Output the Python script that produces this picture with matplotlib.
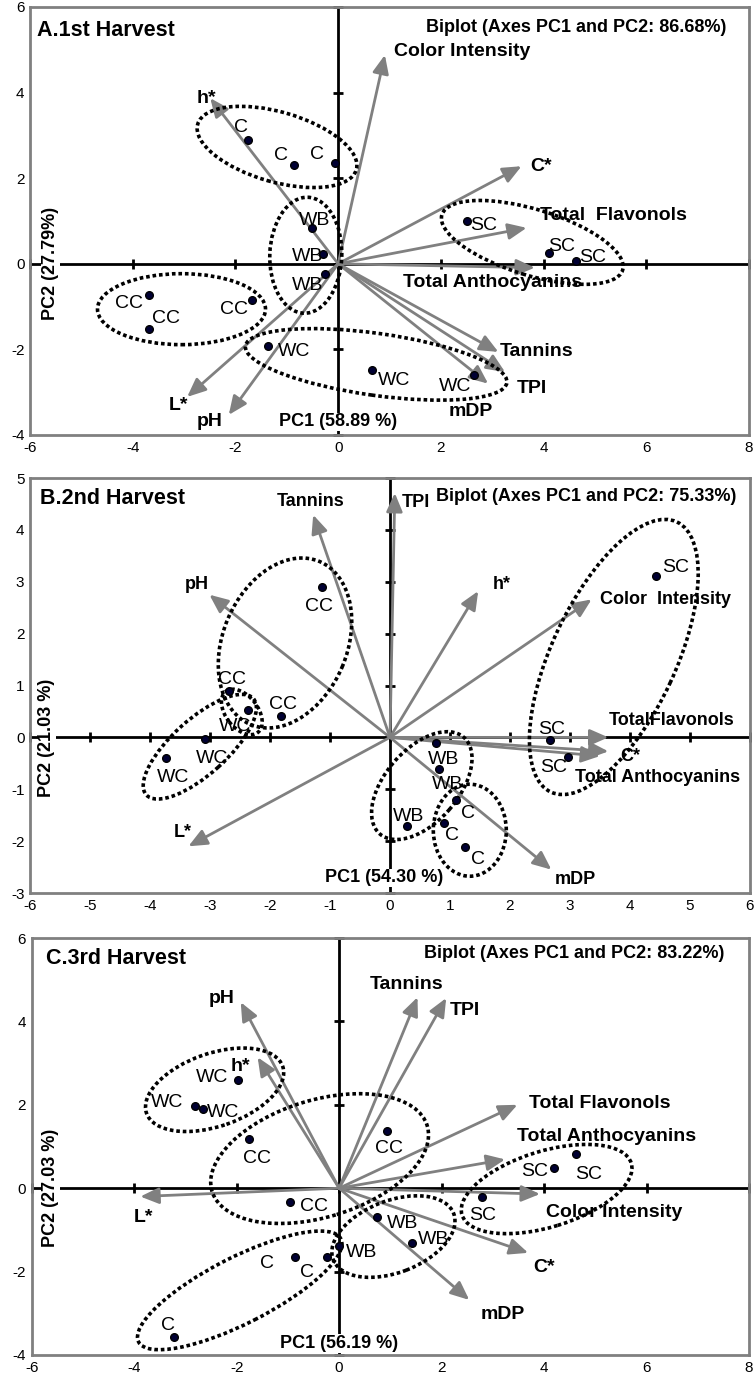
import matplotlib
matplotlib.use('Agg')
import matplotlib.pyplot as plt
from matplotlib.patches import Ellipse
from matplotlib.transforms import ScaledTranslation

plt.rcParams['font.family'] = ['Liberation Sans', 'DejaVu Sans']
plt.rcParams['axes.unicode_minus'] = False

# ---------------- data ----------------
# Panel A : 1st harvest
a_obs = ['C', 'C', 'C', 'WB', 'WB', 'WB', 'CC', 'CC', 'CC', 'WC', 'WC', 'WC', 'SC', 'SC', 'SC']
a_pc1 = [-1.76, -0.86, -0.07, -0.51, -0.29, -0.25, -3.69, -3.68, -1.68, -1.36, 0.66, 2.65, 2.50, 4.10, 4.64]
a_pc2 = [2.90, 2.30, 2.36, 0.84, 0.24, -0.24, -0.74, -1.52, -0.84, -1.91, -2.47, -2.60, 1.00, 0.26, 0.07]
a_vars = ['Color Intensity', 'h*', 'C*', 'Total  Flavonols', 'Total Anthocyanins', 'Tannins', 'TPI', 'mDP', 'L*', 'pH']
a_var_pc1 = [0.91, -2.49, 3.57, 3.67, 3.83, 3.12, 3.25, 2.92, -2.94, -2.13]
a_var_pc2 = [4.88, 3.87, 2.28, 0.84, -0.09, -2.06, -2.53, -2.80, -3.11, -3.53]

# Panel B : 2nd harvest
b_obs = ['CC', 'CC', 'CC', 'WC', 'WC', 'WC', 'SC', 'SC', 'SC', 'WB', 'WB', 'WB', 'C', 'C', 'C']
b_pc1 = [-1.14, -2.68, -1.82, -2.37, -3.09, -3.74, 4.44, 2.66, 2.97, 0.76, 0.82, 0.28, 1.10, 0.90, 1.25]
b_pc2 = [2.89, 0.90, 0.42, 0.52, -0.03, -0.40, 3.12, -0.06, -0.38, -0.11, -0.60, -1.71, -1.21, -1.65, -2.11]
b_vars = ['Tannins', 'pH', 'L*', 'TPI', 'h*', 'Color  Intensity', 'TotalFlavonols', 'C*', 'Total Anthocyanins', 'mDP']
b_var_pc1 = [-1.28, -3.01, -3.36, 0.08, 1.47, 3.36, 3.64, 3.64, 3.50, 2.69]
b_var_pc2 = [4.29, 2.75, -2.10, 4.71, 2.82, 2.66, 0.00, -0.27, -0.36, -2.55]

# Panel C : 3rd harvest
c_obs = ['WC', 'WC', 'WC', 'CC', 'CC', 'CC', 'C', 'C', 'C', 'WB', 'WB', 'WB', 'SC', 'SC', 'SC']
c_pc1 = [-1.97, -2.82, -2.65, -1.75, -0.96, 0.93, -0.86, -0.24, -3.22, 0.00, 0.73, 1.42, 2.78, 4.19, 4.63]
c_pc2 = [2.60, 1.96, 1.90, 1.19, -0.34, 1.38, -1.64, -1.65, -3.58, -1.39, -0.68, -1.32, -0.20, 0.49, 0.81]
c_vars = ['pH', 'h*', 'L*', 'Tannins', 'TPI', 'Total Flavonols', 'Total Anthocyanins', 'Color Intensity', 'C*', 'mDP']
c_var_pc1 = [-1.92, -1.59, -3.88, 1.53, 2.09, 3.48, 3.24, 3.92, 3.69, 2.54]
c_var_pc2 = [4.46, 3.14, -0.20, 4.58, 4.56, 2.00, 0.69, -0.14, -1.55, -2.68]

titles = ['A.1st Harvest', 'B.2nd Harvest', 'C.3rd Harvest']
biplot_titles = ['Biplot (Axes PC1 and PC2: 86.68%)', 'Biplot (Axes PC1 and PC2: 75.33%)',
                 'Biplot (Axes PC1 and PC2: 83.22%)']
pc1_titles = ['PC1 (58.89 %)', 'PC1 (54.30 %)', 'PC1 (56.19 %)']
pc2_titles = ['PC2 (27.79%)', 'PC2 (21.03 %)', 'PC2 (27.03 %)']

# ---------------- layout ----------------
W, H = 754, 1382
panels = [
    dict(obs=a_obs, x=a_pc1, y=a_pc2, vars=a_vars, vx=a_var_pc1, vy=a_var_pc2,
         box=(30, 7, 749, 435), xlim=(-6, 8), ylim=(-4, 6), step=2, vfs=14,
         vlab=[(1.08, 4.95), (-2.75, 3.87), (3.74, 2.28), (3.93, 1.12), (1.27, -0.43),
               (3.15, -2.06), (3.48, -2.91), (2.15, -3.46), (-3.30, -3.30), (-2.75, -3.69)],
         off=[(-7, 12), (-13, 10), (-18, 8), (3, 7), (-16, -3), (-18, -11), (-20, -8), (17, 10),
              (-18, -10), (26, -6), (22, -11), (-19, -11), (17, -4), (13, 6), (16, 3)],
         ell=[(-1.19, 2.73, 165, 70, -16), (-0.63, 0.20, 116, 72, 88), (-3.05, -1.06, 168, 71, 0),
              (0.74, -2.35, 264, 62, -8), (3.78, 0.50, 189, 66, -17)],
         title=(-5.86, 5.46), bip=(7.56, 5.53), pc1=(-1.16, -3.69), pc2=(-5.6, 0.0)),
    dict(obs=b_obs, x=b_pc1, y=b_pc2, vars=b_vars, vx=b_var_pc1, vy=b_var_pc2,
         box=(30, 478, 750, 893), xlim=(-6, 6), ylim=(-3, 5), step=1, vfs=13,
         vlab=[(-1.89, 4.55), (-3.42, 2.94), (-3.61, -1.84), (0.19, 4.52), (1.72, 2.94),
               (3.50, 2.66), (3.64, 0.32), (3.83, -0.36), (3.08, -0.78), (2.75, -2.74)],
         off=[(-3, -19), (3, 11), (2, 11), (-13, -16), (7, -20), (7, -19), (19, 8), (2, 11), (-15, -10),
              (8, -16), (8, -16), (2, 10), (12, -13), (8, -13), (13, -13)],
         ell=[(-1.75, 1.82, 177, 124, 67), (-2.47, 0.49, 52, 32, -52), (-3.17, -0.18, 144, 55, 42),
              (0.53, -0.93, 128, 73, 49), (1.33, -1.79, 92, 73, 90), (3.73, 1.55, 298, 124, 65)],
         title=(-5.83, 4.61), bip=(5.78, 4.65), pc1=(-1.08, -2.71), pc2=(-5.72, 0.0)),
    dict(obs=c_obs, x=c_pc1, y=c_pc2, vars=c_vars, vx=c_var_pc1, vy=c_var_pc2,
         box=(31.7, 938, 749, 1355), xlim=(-6, 8), ylim=(-4, 6), step=2, vfs=14,
         vlab=[(-2.55, 4.54), (-2.12, 2.93), (-4.01, -0.70), (0.59, 4.88), (2.15, 4.26),
               (3.71, 2.04), (3.48, 1.23), (4.03, -0.58), (3.79, -1.91), (2.76, -3.04)],
         off=[(-26, 2), (-28, 4), (20, -4), (8, -20), (24, -4), (2, -18), (-28, -7), (-20, -15), (-6, 12),
              (22, -6), (26, -7), (22, 4), (1, -19), (-19, -4), (12, -20)],
         ell=[(-2.43, 2.36, 144, 73, 19), (-0.38, 0.71, 225, 117, 17), (-1.94, -2.45, 227, 66, 27),
              (1.06, -1.16, 129, 72, 21), (4.05, -0.02, 177, 76, 17)],
         title=(-5.73, 5.51), bip=(7.52, 5.62), pc1=(-1.15, -3.72), pc2=(-5.63, 0.0)),
]

GRAY = '#808080'
WHITE_BOX = dict(facecolor='white', edgecolor='none', pad=0.5)
fig = plt.figure(figsize=(W / 100, H / 100), dpi=100)

for i, p in enumerate(panels):
    l, t, r, b = p['box']
    ax = fig.add_axes([l / W, 1 - b / H, (r - l) / W, (b - t) / H])
    ax.set_xlim(*p['xlim'])
    ax.set_ylim(*p['ylim'])
    for s in ax.spines.values():
        s.set_color(GRAY)
        s.set_linewidth(2)
    xt = list(range(p['xlim'][0], p['xlim'][1] + 1, p['step']))
    yt = list(range(p['ylim'][0], p['ylim'][1] + 1, p['step']))
    ax.set_xticks(xt)
    ax.set_yticks(yt)
    ax.tick_params(length=0, labelsize=11, pad=4)

    # zero axes with ticks
    ax.axhline(0, color='black', lw=2, zorder=2)
    ax.axvline(0, color='black', lw=2, zorder=2)
    ax.plot(xt, [0] * len(xt), ls='none', marker='|', ms=7, mew=2, color='black', zorder=2, clip_on=False)
    ax.plot([0] * len(yt), yt, ls='none', marker='_', ms=7, mew=2, color='black', zorder=2, clip_on=False)

    # variable arrows
    for name, vx, vy, (lx, ly) in zip(p['vars'], p['vx'], p['vy'], p['vlab']):
        ax.annotate('', xy=(vx, vy), xytext=(0, 0),
                    arrowprops=dict(arrowstyle='-|>,head_length=0.8,head_width=0.35',
                                    color=GRAY, lw=2, shrinkA=0, shrinkB=0, mutation_scale=14),
                    zorder=3)
        ax.text(lx, ly, name, fontsize=p['vfs'], fontweight='bold', ha='left', va='center', zorder=5)

    # ellipses (sizes in pixels, centered in data coords)
    for cx, cy, maj, mnr, ang in p['ell']:
        e = Ellipse((0, 0), maj / 100, mnr / 100, angle=ang, fill=False, ec='black', lw=2.6,
                    ls=(0, (1, 0.8)),
                    transform=fig.dpi_scale_trans + ScaledTranslation(cx, cy, ax.transData), zorder=4)
        ax.add_patch(e)

    # observations
    ax.plot(p['x'], p['y'], ls='none', marker='o', ms=5.5, mfc='#000033', mec='black', zorder=6)
    for lab, x, y, (dx, dy) in zip(p['obs'], p['x'], p['y'], p['off']):
        ax.annotate(lab, xy=(x, y), xytext=(dx * 0.72, dy * 0.72), textcoords='offset points',
                    ha='center', va='center', fontsize=14, zorder=6)

    ax.text(*p['title'], titles[i], fontsize=15.5, fontweight='bold', ha='left', va='center')
    ax.text(*p['bip'], biplot_titles[i], fontsize=13, fontweight='bold', ha='right', va='center')
    ax.text(*p['pc1'], pc1_titles[i], fontsize=13, fontweight='bold', ha='left', va='center', zorder=5,
            bbox=WHITE_BOX)
    ax.text(*p['pc2'], pc2_titles[i], fontsize=13, fontweight='bold', ha='center', va='center',
            rotation=90, zorder=5, bbox=WHITE_BOX)

fig.savefig('out.png', dpi=100)
